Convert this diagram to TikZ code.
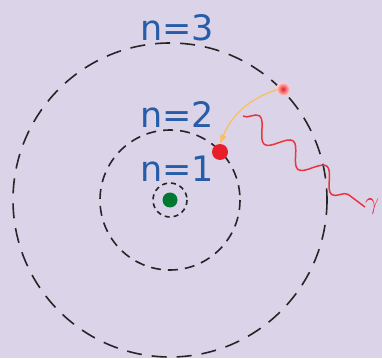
\documentclass[tikz,border=0pt]{standalone}
\usepackage{fontspec}
\setsansfont{DejaVu Sans}
\usetikzlibrary{arrows.meta, positioning, decorations.pathmorphing}
\definecolor{bgcol}{RGB}{219,211,232}
\definecolor{lblue}{RGB}{38,92,168}
\definecolor{ered}{RGB}{232,30,40}
\definecolor{ngreen}{RGB}{0,120,50}
\definecolor{arrorange}{RGB}{250,190,90}
\tikzset{
    orbit/.style={draw=black!85, line width=1.6pt},
    level/.style={font=\sffamily\fontsize{35}{35}\selectfont, text=lblue, inner sep=0pt},
    particle/.style={circle, inner sep=0pt, minimum size=16pt},
    photon/.style={draw=ered!90, line width=1.5pt, decorate,
        decoration={snake, segment length=42pt, amplitude=10pt}},
    jump/.style={-{Latex[length=9pt,width=7pt]}, draw=arrorange, line width=1.2pt}
}
\begin{document}
\begin{tikzpicture}[x=1pt,y=-1pt]
\fill[bgcol] (0,0) rectangle (382,358);
\useasboundingbox (0,0) rectangle (382,358);

% orbits
\draw[orbit, dash pattern=on 5pt off 4pt] (170,200) circle (17);
\draw[orbit, dash pattern=on 10pt off 7pt] (170,200) circle (70);
\draw[orbit, dash pattern=on 15pt off 10pt] (170,200) circle (157);

% labels
\node[level] (n3) at (177,28) {n=3};
\node[level] (n2) at (177,115) {n=2};
\node[level] (n1) at (177,169) {n=1};

% nucleus and electrons
\node[particle, fill=ngreen, minimum size=15pt] (nuc) at (170,200) {};
\node[particle, fill=ered] (el) at (220,152) {};
\shade[inner color=ered, outer color=red!15] (283,89) circle (7);
\node[particle, minimum size=8pt] (exc) at (283,89) {};

% transition and photon
\draw[jump] (exc.west) to[bend right=25] (el.north);
\coordinate (ph) at (243,116);
\node[text=ered, font=\fontsize{32}{32}\selectfont, inner sep=0pt, anchor=west] (gam) at (365,207) {$\gamma$};
\draw[photon] (ph) -- (gam.west);
\end{tikzpicture}
\end{document}
